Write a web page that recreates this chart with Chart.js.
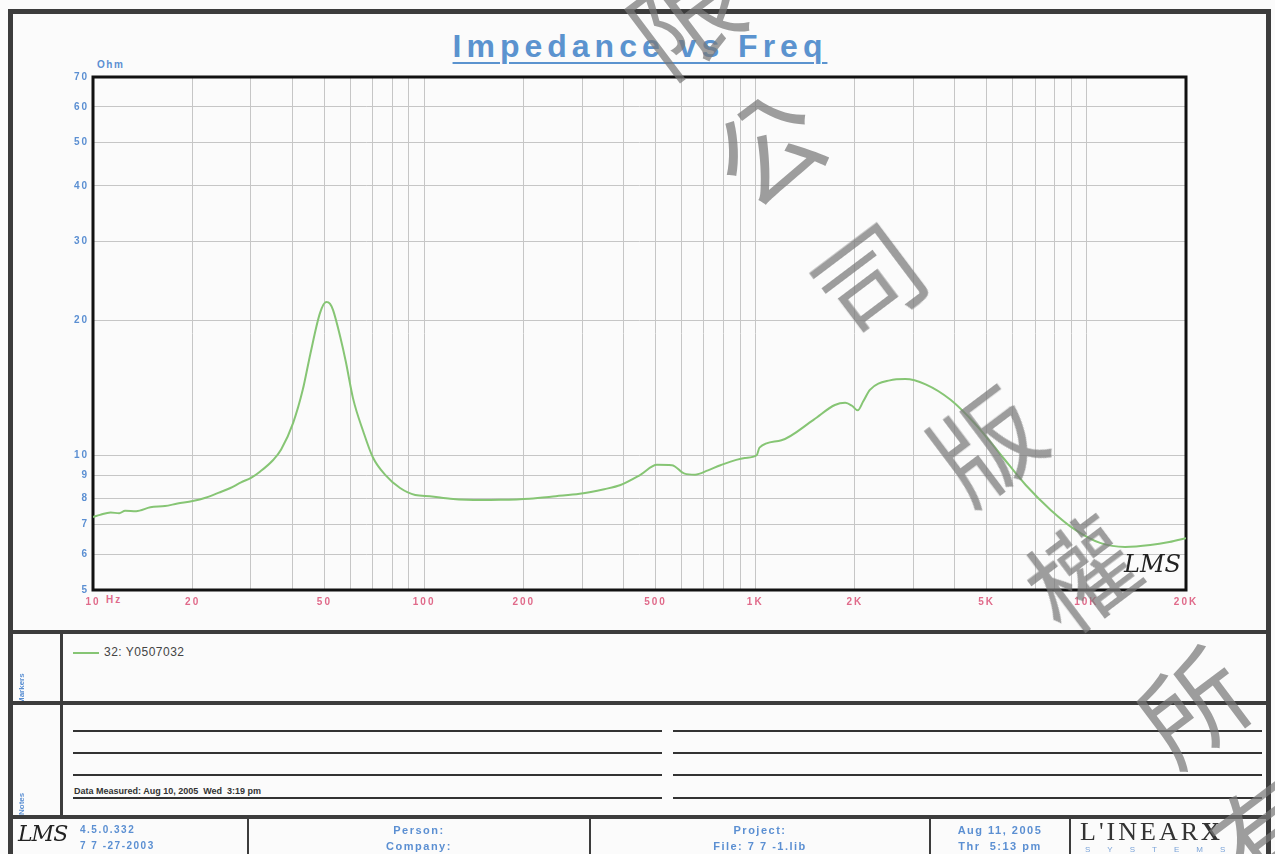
<!DOCTYPE html>
<html>
<head>
<meta charset="utf-8">
<script src="https://cdn.jsdelivr.net/npm/chart.js@4.4.1/dist/chart.umd.min.js"></script>
<style>
  body { margin: 0; background: #fbfbfb; font-family: "Liberation Sans", Arial, sans-serif; }
  #page { position: relative; width: 1275px; height: 854px; overflow: hidden; background: #fbfbfb; }
  .abs { position: absolute; }
  .bar { position: absolute; background: #3c3c3c; }
  .thin { position: absolute; background: #333; height: 2px; }
  .blue { color: #5b8fd2; font-weight: bold; letter-spacing: 1.5px; }
  #title { left: 0; width: 1280px; top: 28px; text-align: center; font-size: 32px; }
  #title span { color: #5b93cf; font-weight: bold; letter-spacing: 5px; text-decoration: underline; text-decoration-thickness: 2px; text-underline-offset: 5px; }
  .wm { position: absolute; font-family: "Noto Sans CJK TC"; font-size: 106px; color: rgba(120,120,120,0.72); transform: translate(-50%,-50%) rotate(-37deg); line-height: 1; pointer-events: none; }
  .foot { position: absolute; top: 822px; text-align: center; font-size: 11px; line-height: 16px; }
</style>
</head>
<body>
<div id="page">
  <div id="title" class="abs"><span>Impedance vs Freq</span></div>
  <div class="abs blue" style="left:97px;top:59px;font-size:10px;">Ohm</div>
  <div class="abs" style="left:106px;top:594px;font-size:10px;font-weight:bold;letter-spacing:2px;color:#e06a8a;">Hz</div>

  <canvas id="chart" width="1275" height="625" class="abs" style="left:0;top:0;"></canvas>

  <div class="abs" style="left:1124px;top:550px;font-family:'DejaVu Serif';font-style:italic;font-size:24px;color:#222;">LMS</div>

  <!-- frame -->
  <div class="bar" style="left:8px;top:9px;width:1263px;height:5px;"></div>
  <div class="bar" style="left:8px;top:9px;width:5px;height:845px;"></div>
  <div class="bar" style="left:1266px;top:9px;width:5px;height:845px;"></div>
  <div class="bar" style="left:8px;top:630px;width:1263px;height:4px;"></div>
  <div class="bar" style="left:8px;top:701px;width:1263px;height:4px;"></div>
  <div class="bar" style="left:8px;top:815px;width:1263px;height:4px;"></div>
  <div class="bar" style="left:60px;top:632px;width:3px;height:185px;"></div>
  <div class="bar" style="left:247px;top:817px;width:2px;height:37px;"></div>
  <div class="bar" style="left:589px;top:817px;width:2px;height:37px;"></div>
  <div class="bar" style="left:929px;top:817px;width:2px;height:37px;"></div>
  <div class="bar" style="left:1069px;top:817px;width:2px;height:37px;"></div>

  <!-- side labels -->
  <div class="abs" style="left:13px;top:634px;width:47px;height:67px;overflow:hidden;">
    <div class="abs blue" style="left:4px;top:70px;font-size:8px;letter-spacing:0;transform:rotate(-90deg);transform-origin:left top;">Markers</div>
  </div>
  <div class="abs" style="left:13px;top:705px;width:47px;height:110px;overflow:hidden;">
    <div class="abs blue" style="left:4px;top:110px;font-size:8px;letter-spacing:0;transform:rotate(-90deg);transform-origin:left top;">Notes</div>
  </div>

  <!-- legend -->
  <div id="legend" class="abs" style="left:73px;top:645px;font-size:12px;color:#444;letter-spacing:0.5px;"></div>

  <!-- notes lines -->
  <div class="thin" style="left:73px;top:730px;width:589px;"></div>
  <div class="thin" style="left:73px;top:752px;width:589px;"></div>
  <div class="thin" style="left:73px;top:774px;width:589px;"></div>
  <div class="thin" style="left:73px;top:797px;width:589px;"></div>
  <div class="thin" style="left:673px;top:730px;width:589px;"></div>
  <div class="thin" style="left:673px;top:752px;width:589px;"></div>
  <div class="thin" style="left:673px;top:774px;width:589px;"></div>
  <div class="thin" style="left:673px;top:797px;width:589px;"></div>
  <div class="abs" style="left:74px;top:786px;font-size:9px;font-weight:bold;color:#333;">Data Measured: Aug 10, 2005&nbsp; Wed&nbsp; 3:19 pm</div>

  <!-- footer -->
  <div class="abs" style="left:18px;top:821px;font-family:'DejaVu Serif';font-style:italic;font-size:22px;letter-spacing:-1px;color:#222;">LMS</div>
  <div class="abs blue" style="left:80px;top:822px;font-size:10px;line-height:16px;">4.5.0.332<br>7 7 -27-2003</div>
  <div class="foot blue" style="left:249px;width:340px;">Person:<br>Company:</div>
  <div class="foot blue" style="left:591px;width:338px;">Project:<br>File: 7 7 -1.lib</div>
  <div class="foot blue" style="left:931px;width:138px;">Aug 11, 2005<br>Thr&nbsp; 5:13 pm</div>
  <div class="abs" style="left:1080px;top:817px;font-family:'Liberation Serif';font-size:26px;letter-spacing:3px;color:#333;">L'INEAR<b>X</b></div>
  <div class="abs" style="left:1085px;top:845px;font-size:8px;letter-spacing:17px;color:#7aa3d8;">SYSTEMS</div>

  <!-- watermark -->
  <div class="wm" style="left:682px;top:14px;">限</div>
  <div class="wm" style="left:765px;top:144px;">公</div>
  <div class="wm" style="left:866px;top:276px;">司</div>
  <div class="wm" style="left:983px;top:440px;">版</div>
  <div class="wm" style="left:1078px;top:570px;">權</div>
  <div class="wm" style="left:1190px;top:702px;">所</div>
  <div class="wm" style="left:1264px;top:826px;">有</div>
</div>

<script>
const seriesLabel = "32: Y0507032";

const freqHz = [10, 10.5, 11.3, 12, 12.5, 13.5, 14.9, 16.5, 18, 20, 22, 24, 26, 28, 30, 32, 35, 37,
  40.2, 43, 45.3, 48.5, 50.6, 52, 53.1, 55.8, 58, 61, 65.5, 70, 76.3, 84.6, 94,
  104, 120, 147, 170, 208, 250, 295, 350, 392, 450, 505, 560, 612, 658, 720, 785, 930, 1010,
  1030, 1200, 1500, 1740, 1870, 1960, 2040, 2120, 2220, 2550, 2840, 3270, 3890, 4640, 5530,
  6560, 7800, 9270, 11000, 13100, 15600, 17800, 20000];

const impedanceOhm = [7.28, 7.36, 7.45, 7.42, 7.52, 7.5, 7.65, 7.7, 7.8, 7.9, 8.05, 8.25, 8.45, 8.7, 8.9, 9.2, 9.76, 10.3,
  11.8, 14.0, 16.8, 20.8, 22.0, 21.8, 21.1, 18.4, 16.2, 13.4, 11.3, 9.9, 9.04, 8.45, 8.15,
  8.1, 8.0, 7.94, 7.95, 8.0, 8.1, 8.2, 8.4, 8.58, 9.04, 9.52, 9.5, 9.1, 9.05, 9.25, 9.5, 9.86, 10.0,
  10.4, 10.8, 12.0, 12.95, 13.1, 12.9, 12.6, 13.2, 14.0, 14.7, 14.8, 14.4, 13.3, 11.7, 10.0,
  8.58, 7.55, 6.81, 6.37, 6.24, 6.3, 6.4, 6.53];

const yTickValues = [5, 6, 7, 8, 9, 10, 20, 30, 40, 50, 60, 70];

const xGridValues = [10, 20, 30, 40, 50, 60, 70, 80, 90,
  100, 200, 300, 400, 500, 600, 700, 800, 900,
  1000, 2000, 3000, 4000, 5000, 6000, 7000, 8000, 9000,
  10000, 20000];

const xLabelValues = [10, 20, 50, 100, 200, 500, 1000, 2000, 5000, 10000, 20000];
const xLabelText = ["10", "20", "50", "100", "200", "500", "1K", "2K", "5K", "10K", "20K"];

document.getElementById("legend").innerHTML =
  '<span style="display:inline-block;width:26px;height:2px;background:#86c574;vertical-align:middle;margin-right:5px;"></span>' + seriesLabel;

// wide-spaced tick text and a heavy frame round the plot
const plotFrame = {
  id: "plotFrame",
  beforeDraw(chart) {
    chart.ctx.letterSpacing = "2px";
  },
  beforeDatasetsDraw(chart) {
    const { ctx, chartArea: a } = chart;
    ctx.save();
    ctx.strokeStyle = "#111";
    ctx.lineWidth = 3;
    ctx.strokeRect(a.left, a.top, a.right - a.left, a.bottom - a.top);
    ctx.restore();
  }
};

const tickFont = { family: "Liberation Sans", size: 10, weight: "bold" };

new Chart(document.getElementById("chart"), {
  type: "line",
  data: {
    datasets: [{
      label: seriesLabel,
      data: freqHz.map((f, i) => ({ x: f, y: impedanceOhm[i] })),
      borderColor: "#86c574",
      borderWidth: 2,
      pointRadius: 0,
      cubicInterpolationMode: "monotone"
    }]
  },
  options: {
    responsive: false,
    animation: false,
    devicePixelRatio: 1,
    layout: { padding: { left: 0, top: 77, right: 89, bottom: 0 } },
    plugins: { legend: { display: false }, tooltip: { enabled: false } },
    scales: {
      x: {
        type: "logarithmic",
        min: 10,
        max: 20000,
        afterBuildTicks: (s) => { s.ticks = xGridValues.map((v) => ({ value: v })); },
        afterFit: (s) => { s.height = 35; },
        grid: { color: "#c6c6c6", drawTicks: false },
        border: { display: false },
        ticks: {
          autoSkip: false,
          maxRotation: 0,
          padding: 6,
          color: "#e06a8a",
          font: tickFont,
          callback: (v) => {
            const i = xLabelValues.indexOf(v);
            return i < 0 ? "" : xLabelText[i];
          }
        }
      },
      y: {
        type: "logarithmic",
        min: 5,
        max: 70,
        afterBuildTicks: (s) => { s.ticks = yTickValues.map((v) => ({ value: v })); },
        afterFit: (s) => { s.width = 93; },
        grid: { color: "#c6c6c6", drawTicks: false },
        border: { display: false },
        ticks: {
          autoSkip: false,
          padding: 4,
          color: "#5b8fd2",
          font: tickFont,
          callback: (v) => String(v)
        }
      }
    }
  },
  plugins: [plotFrame]
});
</script>
</body>
</html>
